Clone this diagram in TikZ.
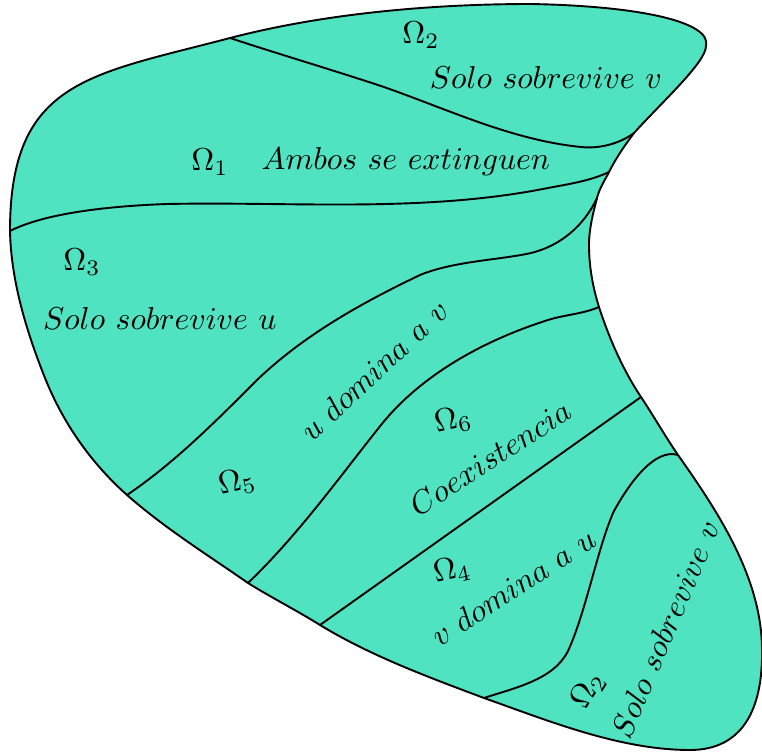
\documentclass[tikz,border=0pt]{standalone}
\usepackage{amsmath,amssymb}
\usepackage{xcolor}
\usepackage{tikz}
\definecolor{region}{RGB}{80,227,194}

\begin{document}
\begin{tikzpicture}[x=0.3156pt, y=-0.3156pt,
  frontera/.style={draw=black, line width=0.6pt},
  curva/.style={draw=black, line width=0.6pt},
  lbl/.style={inner sep=0pt, font=\normalsize}]
  \useasboundingbox (0,0) rectangle (762,756);
  % puntos de union sobre la frontera
  \coordinate (L)  at (10,231);
  \coordinate (T)  at (230,38);
  \coordinate (R1) at (634,133);
  \coordinate (R2) at (609,172);
  \coordinate (R3) at (597,198);
  \coordinate (R4) at (599,307);
  \coordinate (R5) at (641,397);
  \coordinate (R6) at (678,455);
  \coordinate (B1) at (484,698);
  \coordinate (B2) at (320,625);
  \coordinate (B3) at (248,583);
  \coordinate (B4) at (127,495);
  % region
  \path[frontera, fill=region] (L)
    .. controls (10,80) and (90,75) .. (T)
    .. controls (330,12) and (440,4) .. (531,4)
    .. controls (640,6) and (712,22) .. (706,46)
    .. controls (706,62) and (664,100) .. (R1)
    .. controls (625,145) and (616,158) .. (R2)
    .. controls (604.5,181) and (599.5,188) .. (R3)
    .. controls (593,213.5) and (589,229) .. (589,245)
    .. controls (589,266) and (592.7,287) .. (R4)
    .. controls (609,338) and (623,370) .. (R5)
    .. controls (653.6,416) and (665,436) .. (R6)
    .. controls (719,513) and (762,579) .. (762,650)
    .. controls (763,710) and (742,750) .. (690,750)
    .. controls (620,750) and (549,721) .. (B1)
    .. controls (428,677) and (371,656) .. (B2)
    .. controls (296,610) and (272,598) .. (B3)
    .. controls (207,554.5) and (164.5,528) .. (B4)
    .. controls (91,463) and (63,423) .. (45,378)
    .. controls (26.5,331.5) and (11,281) .. (L) -- cycle;
  % separaciones
  \draw[curva] (T) .. controls (280,54.5) and (331,69.5) .. (381,86)
    .. controls (447.5,109) and (511,140) .. (581,147)
    .. controls (599,149) and (619.6,143.8) .. (R1);
  \draw[curva] (L) .. controls (45,213) and (110,206) .. (167,204)
    .. controls (294,201.5) and (423,213) .. (548,188)
    .. controls (569,184) and (590,181) .. (R2);
  \draw[curva] (B4) .. controls (175,462.5) and (216,421) .. (257,380)
    .. controls (304,335) and (361.5,303) .. (420,275)
    .. controls (454,261) and (500,260) .. (531,253)
    .. controls (560,246) and (584,226) .. (R3);
  \draw[curva] (B3) .. controls (298,535) and (338,479) .. (381,425)
    .. controls (422,374) and (485,340) .. (548,320)
    .. controls (565,314.6) and (583,314) .. (R4);
  \draw[curva] (B2) -- (R5);
  \draw[curva] (B1) .. controls (514,688) and (553.6,680) .. (568,651)
    .. controls (586,612) and (598,546) .. (614,511)
    .. controls (630,482) and (655,448) .. (R6);
  % etiquetas
  \node[lbl] (om2a) at (421,35) {$\Omega_2$};
  \node[lbl] (txt2a) at (546,77) {$Solo\ sobrevive\ v$};
  \node[lbl] (om1) at (210,162) {$\Omega_1$};
  \node[lbl] (txt1) at (406,162) {$Ambos\ se\ extinguen$};
  \node[lbl] (om3) at (82,262) {$\Omega_3$};
  \node[lbl] (txt3) at (160,318) {$Solo\ sobrevive\ u$};
  \node[lbl, rotate=43] (txt5) at (374,370) {$u\ domina\ a\ v$};
  \node[lbl, rotate=12] (om5) at (237,482) {$\Omega_5$};
  \node[lbl, rotate=12] (om6) at (453,420) {$\Omega_6$};
  \node[lbl, rotate=33] (txt6) at (490,458) {$Coexistencia$};
  \node[lbl, rotate=12] (om4) at (452,570) {$\Omega_4$};
  \node[lbl, rotate=33] (txt4) at (513,587) {$v\ domina\ a\ u$};
  \node[lbl, rotate=58] (om2b) at (588,690) {$\Omega_2$};
  \node[lbl, rotate=67] (txt2b) at (665,629) {$Solo\ sobrevive\ v$};
\end{tikzpicture}
\end{document}
